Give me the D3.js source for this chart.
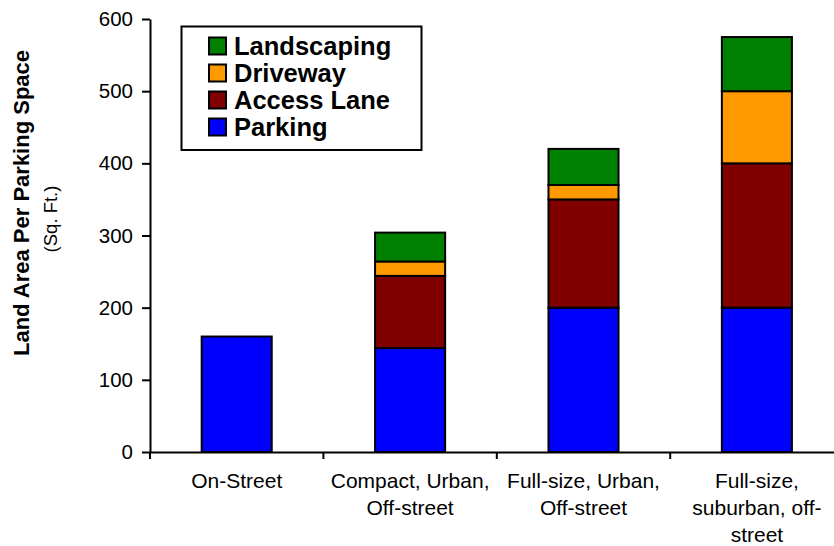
<!DOCTYPE html>
<html>
<head>
<meta charset="utf-8">
<script src="https://cdn.jsdelivr.net/npm/d3@7/dist/d3.min.js"></script>
<style>
  html, body { margin: 0; padding: 0; background: #fff; }
  svg { display: block; font-family: "Liberation Sans", Arial, sans-serif; }
</style>
</head>
<body>
<svg id="chart" width="834" height="546"></svg>
<script>
// ---- data ----
const categories = ["On-Street", "Compact, Urban, Off-street", "Full-size, Urban, Off-street", "Full-size, suburban, off-street"];
const categoryLines = [
  ["On-Street"],
  ["Compact, Urban,", "Off-street"],
  ["Full-size, Urban,", "Off-street"],
  ["Full-size,", "suburban, off-", "street"]
];
const seriesNames = ["Parking", "Access Lane", "Driveway", "Landscaping"];
const parking     = [160, 144, 200, 200];
const accessLane  = [0, 100, 150, 200];
const driveway    = [0, 20, 20, 100];
const landscaping = [0, 40, 50, 75];
const yTicks = [0, 100, 200, 300, 400, 500, 600];
const seriesColors = ["#0000FF", "#800000", "#FF9900", "#008000"];

// ---- build table ----
const seriesValues = [parking, accessLane, driveway, landscaping];
const table = categories.map((c, i) => {
  const row = { category: c };
  seriesNames.forEach((s, j) => row[s] = seriesValues[j][i]);
  return row;
});
const stacked = d3.stack().keys(seriesNames)(table);

const svg = d3.select("#chart");
const x0 = 150, step = 173.4;
const x = d3.scaleBand()
  .domain(categories)
  .range([x0, x0 + step * categories.length])
  .paddingInner(0.596)
  .paddingOuter(0.298);
const y = d3.scaleLinear().domain([0, 600]).range([452, 19]);
const color = d3.scaleOrdinal().domain(seriesNames).range(seriesColors);

// bars
svg.append("g").selectAll("g")
  .data(stacked)
  .join("g")
  .attr("fill", d => color(d.key))
  .selectAll("rect")
  .data(d => d.filter(p => p[1] - p[0] > 0))
  .join("rect")
  .attr("x", d => x(d.data.category))
  .attr("width", x.bandwidth())
  .attr("y", d => y(d[1]))
  .attr("height", d => y(d[0]) - y(d[1]))
  .attr("stroke", "#000")
  .attr("stroke-width", 2);

// y axis
const yAxis = svg.append("g")
  .attr("transform", `translate(${x0},0)`)
  .call(d3.axisLeft(y).tickValues(yTicks).tickSize(8).tickPadding(9).tickSizeOuter(0));
yAxis.select(".domain").attr("stroke", "#000").attr("stroke-width", 2);
yAxis.selectAll(".tick line").attr("stroke", "#000").attr("stroke-width", 2);
yAxis.selectAll(".tick text")
  .attr("font-size", "20.5px")
  .attr("font-family", "Liberation Sans, Arial, sans-serif")
  .attr("fill", "#000");

// x axis
const xAxis = svg.append("g")
  .attr("transform", `translate(0,${y(0)})`)
  .call(d3.axisBottom(x).tickSize(0).tickSizeOuter(0).tickFormat(""));
xAxis.select(".domain").attr("stroke", "#000").attr("stroke-width", 2);
// category boundary ticks
const boundaries = categories.map(c => x(c) - (x.step() - x.bandwidth()) / 2);
boundaries.push(x.range()[1]);
xAxis.selectAll("line.bound")
  .data(boundaries)
  .join("line")
  .attr("class", "bound")
  .attr("x1", d => d).attr("x2", d => d)
  .attr("y1", 0).attr("y2", 7)
  .attr("stroke", "#000").attr("stroke-width", 2);
// category labels
xAxis.selectAll(".tick").each(function(d, i) {
  const t = d3.select(this).select("text")
    .attr("font-size", "21px")
    .attr("font-family", "Liberation Sans, Arial, sans-serif")
    .attr("fill", "#000")
    .attr("y", 0).attr("dy", null);
  t.selectAll("tspan")
    .data(categoryLines[i])
    .join("tspan")
    .attr("x", 0)
    .attr("y", (l, k) => 36 + k * 27)
    .text(l => l);
});

// y axis title
svg.append("text")
  .attr("transform", "translate(29,203) rotate(-90)")
  .attr("text-anchor", "middle")
  .attr("font-size", "22px")
  .attr("font-weight", "bold")
  .attr("fill", "#000")
  .text("Land Area Per Parking Space");
svg.append("text")
  .attr("transform", "translate(57,219) rotate(-90)")
  .attr("text-anchor", "middle")
  .attr("font-size", "18.5px")
  .attr("fill", "#000")
  .text("(Sq. Ft.)");

// legend
const legend = svg.append("g");
legend.append("rect")
  .attr("x", 181.5).attr("y", 26.5)
  .attr("width", 240).attr("height", 123.5)
  .attr("fill", "#fff").attr("stroke", "#000").attr("stroke-width", 2);
const legendOrder = seriesNames.slice().reverse();
const items = legend.selectAll("g.item")
  .data(legendOrder)
  .join("g")
  .attr("class", "item")
  .attr("transform", (d, i) => `translate(209,${37.5 + i * 27})`);
items.append("rect")
  .attr("width", 17).attr("height", 17)
  .attr("fill", d => color(d))
  .attr("stroke", "#000").attr("stroke-width", 2);
items.append("text")
  .attr("x", 25).attr("y", 17)
  .attr("font-size", "25.5px")
  .attr("font-weight", "bold")
  .attr("fill", "#000")
  .text(d => d);
</script>
</body>
</html>
